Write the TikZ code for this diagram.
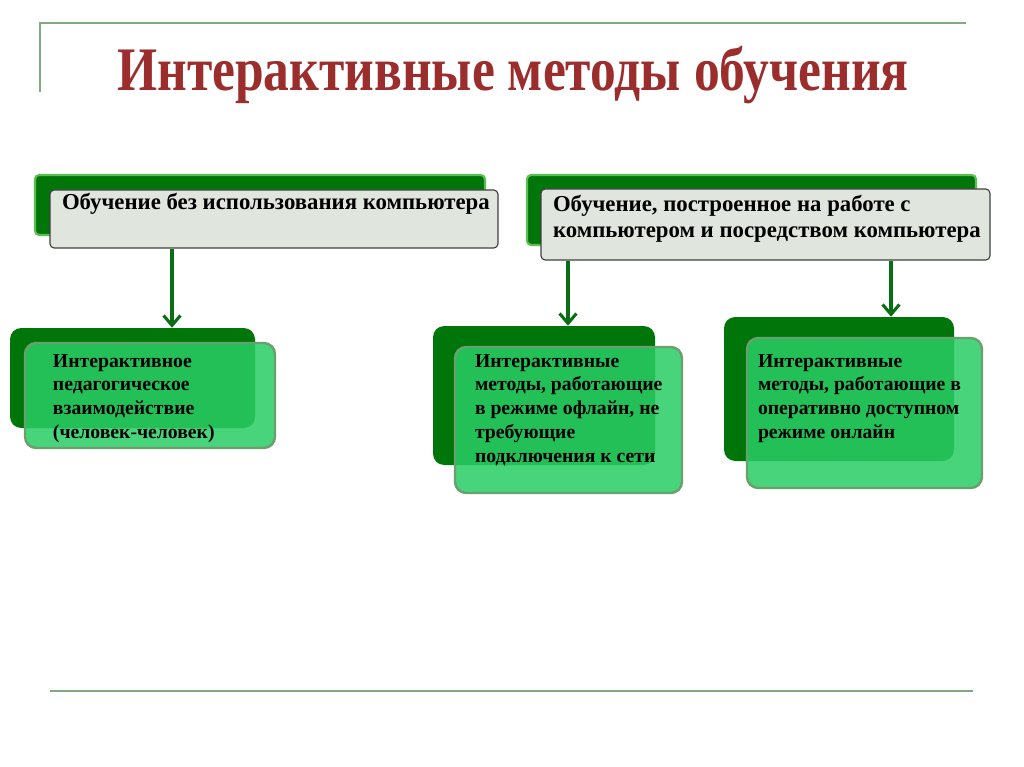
\documentclass[tikz,border=0pt]{standalone}
\usepackage{fontspec}
\setmainfont{Liberation Serif}
\usepackage{graphicx}
\usetikzlibrary{arrows.meta}

\definecolor{dkgreen}{RGB}{0,118,10}
\definecolor{ltgreen}{RGB}{40,205,100}
\definecolor{edgegreen}{RGB}{105,160,110}
\definecolor{rimgreen}{RGB}{90,190,80}
\definecolor{headgray}{RGB}{224,229,222}
\definecolor{arrowgreen}{RGB}{10,110,20}
\definecolor{rulegreen}{RGB}{130,170,130}
\definecolor{titlered}{RGB}{155,45,45}

\newdimen\px \px=0.025cm
% width, height, left pad, top pad, text (all in px)
\newcommand{\boxtext}[5]{\parbox[c][#2\px][t]{#1\px}{\vspace*{#4\px}\leftskip=#3\px\relax\rightskip=0pt plus 1fil\relax\parindent=0pt\strut #5}}

\begin{document}
\begin{tikzpicture}[x=0.025cm, y=-0.025cm]
\tikzstyle{back}=[rectangle, rounded corners=8pt, fill=dkgreen, inner sep=0pt]
\tikzstyle{front}=[rectangle, rounded corners=8pt, fill=ltgreen, fill opacity=0.85, text opacity=1, draw=edgegreen, line width=1.7pt, inner sep=0pt, font=\fontsize{14}{17}\selectfont\bfseries]
\tikzstyle{headback}=[rectangle, rounded corners=3pt, fill=dkgreen, draw=rimgreen, line width=1.5pt, inner sep=0pt]
\tikzstyle{head}=[rectangle, rounded corners=3pt, fill=headgray, draw=black!75, line width=0.8pt, inner sep=0pt, font=\fontsize{16.2}{18.5}\selectfont\bfseries]
\tikzstyle{arrow}=[-{Straight Barb[length=7pt,width=12pt,line width=2.2pt]}, line width=2.2pt, draw=arrowgreen]
\tikzstyle{rule}=[line width=1.4pt, draw=rulegreen]

\useasboundingbox (0,0) rectangle (1024,767);
\fill[white] (0,0) rectangle (1024,767);

\draw [rule] (40,92) -- (40,23) -- (966,23);
\draw [rule] (50,691) -- (973,691);

\node (title) at (513,75) [text=titlered, font=\fontsize{44}{48}\selectfont\bfseries] {\scalebox{0.833}[1]{Интерактивные методы обучения}};

\node (Ab) [headback, minimum width=450*\px, minimum height=60*\px] at (260,205) {};
\node (A) [head] at (274,219) {\boxtext{448}{58}{12}{0.8}{Обучение без использования компьютера}};
\node (Bb) [headback, minimum width=449*\px, minimum height=70*\px] at (751.5,210) {};
\node (B) [head] at (765.5,224.5) {\boxtext{449}{71}{12}{3.8}{Обучение, построенное на работе с\\ компьютером и посредством компьютера}};

\node (Cb) [back, minimum width=245*\px, minimum height=100*\px] at (132.5,378) {};
\node (C) [front] at (150,395.5) {\boxtext{250}{105}{28}{7.3}{Интерактивное\\ педагогическое\\ взаимодействие\\ (человек-человек)}};
\node (Db) [back, minimum width=222*\px, minimum height=139*\px] at (544,395.5) {};
\node (D) [front] at (568.5,420) {\boxtext{227}{146}{20}{3.3}{Интерактивные\\ методы, работающие\\ в режиме офлайн, не\\ требующие\\ подключения к сети}};
\node (Eb) [back, minimum width=230*\px, minimum height=144*\px] at (839,389) {};
\node (E) [front] at (864.5,413) {\boxtext{235}{150}{11}{12.3}{Интерактивные\\ методы, работающие в\\ оперативно доступном\\ режиме онлайн}};

\coordinate (a1) at (172,0);
\coordinate (a2) at (568,0);
\coordinate (a3) at (891,0);
\draw [arrow] (A.south -| a1) -- (Cb.north -| a1);
\draw [arrow] (B.south -| a2) -- (Db.north -| a2);
\draw [arrow] (B.south -| a3) -- (Eb.north -| a3);

\end{tikzpicture}
\end{document}
